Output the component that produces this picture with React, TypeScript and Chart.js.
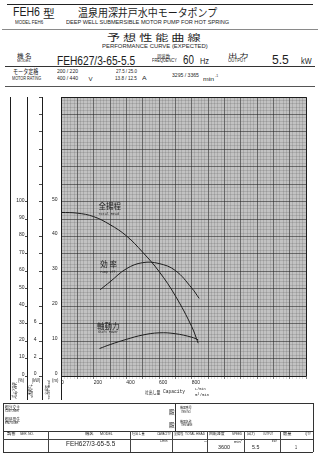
import React, { useEffect, useLayoutEffect, useRef } from 'react';
import { Chart, registerables } from 'chart.js';
Chart.register(...registerables);

// ---------- data ----------
const flowHead = [0, 100, 200, 300, 400, 500, 600, 700, 800, 840];
const totalHead = [46.9, 46.7, 45.7, 43.4, 40.2, 35.5, 30.0, 23.0, 14.2, 9.4];
const flowEff = [240, 300, 400, 500, 600, 700, 800, 846];
const pumpEff = [49.5, 54.0, 61.5, 65.0, 64.5, 60.5, 50.5, 44.5];
const flowPower = [236, 300, 400, 500, 600, 700, 800, 840];
const shaftPower = [3.15, 3.6, 4.2, 4.7, 4.95, 4.85, 4.45, 4.15];
const xTickLabels = [0, 200, 400, 600, 800];
const headTickLabels = [0, 10, 20, 30, 40, 50];
const effTickLabels = [0, 10, 20, 30, 40, 50, 60, 70, 80, 90, 100];
const powerTickLabels = [0, 2, 4, 6];

// ---------- styles ----------
const INK = '#1d1d1d';
const BG = '#c2c2c2';
const MAJ = 'rgba(35,35,35,0.7)';
const MIN = 'rgba(70,70,70,0.3)';
const JP = '"Noto Sans CJK JP", "Noto Sans CJK SC", sans-serif';
const LA = '"Liberation Sans", Arial, sans-serif';
const MO = '"Liberation Mono", "DejaVu Sans Mono", monospace';

type Kind = 'j' | 'l' | 'm';
type TItem = [string, Kind, number, number, number, number];
const FONT: Record<Kind, string> = { j: JP, l: LA, m: MO };
const TOPF: Record<Kind, number> = { j: 0.07, l: 0.13, m: 0.11 };
const HR: Record<Kind, number> = { j: 0.9, l: 0.72, m: 0.66 };

const texts: TItem[] = [
  ['FEH6', 'l', 13, 8, 27, 9],
  ['型', 'j', 43, 7.5, 12, 10.5],
  ['温泉用深井戸水中モータポンプ', 'j', 78, 7.5, 139, 10],
  ['MODEL FEH6', 'l', 15, 21, 28, 4],
  ['DEEP WELL SUBMERSIBLE MOTOR PUMP FOR HOT SPRING', 'l', 66, 21, 163, 4],
  ['予 想 性 能 曲 線', 'j', 107, 33.3, 93, 8.4],
  ['PERFORMANCE CURVE (EXPECTED)', 'l', 102, 44, 106, 4.5],
  ['機 名', 'j', 17, 53, 15, 5.5],
  ['MODEL', 'l', 17, 60, 14, 3],
  ['FEH627/3-65-5.5', 'l', 57, 56, 78, 9.5],
  ['周波数', 'j', 157, 53, 13, 4.5],
  ['FREQUENCY', 'l', 152, 59.5, 25, 3.3],
  ['60', 'l', 183, 56, 11, 9],
  ['Hz', 'l', 200, 58, 9, 6.5],
  ['出 力', 'j', 228, 52.7, 20, 4.6],
  ['OUTPUT', 'l', 228, 60, 18, 3.3],
  ['5.5', 'l', 272, 56, 16.5, 9],
  ['kW', 'l', 301, 58, 10.5, 6.5],
  ['モータ定格', 'j', 13.3, 69.3, 25.7, 5.7],
  ['MOTOR RATING', 'l', 12, 77.3, 29, 3.3],
  ['200 / 220', 'l', 57, 68.3, 20.6, 4.4],
  ['400 / 440', 'l', 57, 76, 20.6, 4.4],
  ['V', 'l', 88.5, 76.5, 4, 4.4],
  ['27.5 / 25.0', 'l', 115.7, 68.3, 21, 4.4],
  ['13.8 / 12.5', 'l', 115.3, 76, 22, 4.4],
  ['A', 'l', 142, 76, 4.5, 4.4],
  ['3295 / 3365', 'l', 172.3, 73, 26.7, 4.4],
  ['min', 'l', 203.3, 78, 11, 3.6],
  ['-1', 'l', 215, 75.5, 3, 2.5],
  ['(%)', 'l', 18, 378.5, 6, 4.2],
  ['(kW)', 'l', 32, 378.5, 8, 4.2],
  ['(m)', 'l', 51.5, 378.5, 6.5, 4.2],
  ['吐出し量', 'j', 145, 389.5, 15, 4.6],
  ['Capacity', 'm', 163, 390, 22, 3.6],
  ['L/min', 'm', 195, 387, 11, 2.8],
  ['m³/min', 'm', 195, 393.5, 14, 2.8],
  ['御注文主', 'j', 5, 405, 15, 3.8],
  ['CUSTOMER', 'l', 5, 410, 14, 2],
  ['御使用先', 'j', 5, 417, 15, 3.8],
  ['END USER', 'l', 5, 422, 13, 2],
  ['殿', 'j', 169, 409, 5.5, 5.5],
  ['殿', 'j', 169, 422.5, 5.5, 5.5],
  ['機器番号', 'j', 180, 406.5, 12, 3.5],
  ['ITEM NO.', 'l', 181, 411, 10, 2],
  ['機器名称', 'j', 180, 420, 12, 3.5],
  ['ITEM NAME', 'l', 181, 424.5, 11, 2],
  ['製番', 'j', 7, 432.7, 9, 3.5],
  ['SER. NO.', 'l', 20, 433.3, 14, 2.6],
  ['機名', 'j', 85, 432.7, 9, 3.5],
  ['MODEL', 'l', 100, 433.3, 13, 2.6],
  ['吐出し量', 'j', 132, 432.7, 13, 3.5],
  ['CAPACITY', 'l', 156.7, 433.3, 14, 2.6],
  ['全揚程', 'j', 174, 432.7, 9.5, 3.5],
  ['TOTAL HEAD', 'l', 185, 433.3, 20, 2.6],
  ['回転速度', 'j', 209, 432.7, 16, 3.5],
  ['SPEED', 'l', 231.7, 433.3, 10, 2.6],
  ['出力', 'j', 246.7, 432.7, 8.5, 3.5],
  ['OUTPUT', 'l', 263, 433.3, 10, 2.6],
  ['数量', 'j', 283, 432.7, 8.7, 3.5],
  ['QTY', 'l', 305, 433.3, 5.5, 2.6],
  ['FEH627/3-65-5.5', 'l', 66, 441.5, 49, 5],
  ['L/min', 'l', 160, 440.7, 7, 2.5],
  ['m', 'l', 204, 441.5, 2.5, 1.8],
  ['min', 'l', 234, 441, 6, 2],
  ['-1', 'l', 240, 439.7, 2, 1.5],
  ['3600', 'l', 218.3, 446, 11.7, 4],
  ['kW', 'l', 271.7, 440.7, 5, 2.5],
  ['5.5', 'l', 251.7, 446, 7.6, 4],
  ['1', 'l', 294.5, 446, 2, 4],
];

const rules: [number, number, number, number, string][] = [
  [7, 3.5, 306, 1.8, '#222'],
  [2, 29, 316, 1, '#8a8a8a'],
  [5, 66.3, 310, 0.9, '#333'],
  [5, 85.5, 310, 1, '#555'],
  [3, 403, 310, 1, '#333'],
  [3, 403, 1, 49, '#333'],
  [312.5, 403, 1, 49, '#333'],
  [175, 403, 1, 28, '#333'],
  [3, 431, 310, 1, '#333'],
  [3, 439, 310, 0.8, '#444'],
  [3, 452, 310, 1, '#333'],
  [48, 431, 0.8, 21, '#444'],
  [130, 431, 0.8, 21, '#444'],
  [172, 431, 0.8, 21, '#444'],
  [207, 431, 0.8, 21, '#444'],
  [243.5, 431, 0.8, 21, '#444'],
  [280, 431, 0.8, 21, '#444'],
];

function Txt({ t }: { t: TItem }) {
  const [text, k, x, y, w, h] = t;
  const s = h / HR[k];
  const ref = useRef<HTMLSpanElement>(null);
  useLayoutEffect(() => {
    const fit = () => {
      const el = ref.current;
      if (!el) return;
      el.style.transform = 'none';
      const nw = el.offsetWidth;
      if (nw > 0) el.style.transform = `scaleX(${w / nw})`;
    };
    fit();
    const f: any = (document as any).fonts;
    if (f && f.ready) f.ready.then(fit);
  }, [text, w, s]);
  return (
    <span
      ref={ref}
      style={{
        position: 'absolute', left: x, top: y - TOPF[k] * s, fontSize: s, fontFamily: FONT[k],
        lineHeight: 1, whiteSpace: 'pre', transformOrigin: '0 0', color: INK, pointerEvents: 'none',
      }}
    >
      {text}
    </span>
  );
}

function Rot({ cx, cy, a, b }: { cx: number; cy: number; a: string; b: string }) {
  return (
    <div
      style={{
        position: 'absolute', left: cx, top: cy, transform: 'translate(-50%,-50%) rotate(-90deg)',
        fontSize: 3.2, lineHeight: 1.05, whiteSpace: 'pre', textAlign: 'center', color: INK,
      }}
    >
      <div style={{ fontFamily: JP }}>{a}</div>
      <div style={{ fontFamily: MO }}>{b}</div>
    </div>
  );
}

const curveLabels: { text: string; font: string; flow: number; head: number }[] = [
  { text: '全揚程', font: `7.5px ${JP}`, flow: 230, head: 49.8 },
  { text: 'Total Head', font: `3.4px ${MO}`, flow: 230, head: 47.0 },
  { text: '効 率', font: `7.5px ${JP}`, flow: 240, head: 33.2 },
  { text: 'Pump Eff.', font: `3.2px ${MO}`, flow: 240, head: 30.3 },
  { text: '軸動力', font: `7.5px ${JP}`, flow: 220, head: 15.3 },
  { text: 'Shaft Power', font: `3.1px ${MO}`, flow: 225, head: 12.9 },
];

const isMult = (v: number, m: number) => Math.abs(v / m - Math.round(v / m)) < 1e-6;
const inList = (list: number[], v: number) => list.some((t) => Math.abs(t - v) < 1e-6);

const paperPlugin = {
  id: 'paper',
  beforeDraw(chart: any) {
    const { ctx, chartArea: a } = chart;
    ctx.save();
    ctx.fillStyle = BG;
    ctx.fillRect(a.left, a.top, a.right - a.left, a.bottom - a.top);
    ctx.restore();
  },
  afterDraw(chart: any) {
    const { ctx, chartArea: a, scales } = chart;
    ctx.save();
    ctx.strokeStyle = INK;
    ctx.lineWidth = 1;
    ctx.beginPath();
    ctx.rect(Math.round(a.left) + 0.5, Math.round(a.top) + 0.5, Math.round(a.right) - Math.round(a.left), Math.round(a.bottom) - Math.round(a.top));
    ctx.stroke();
    [scales.yE.left, scales.yE.right, scales.yP.right, scales.yH.right].forEach((x: number) => {
      const px = Math.round(x) + 0.5;
      ctx.beginPath();
      ctx.moveTo(px, a.top);
      ctx.lineTo(px, chart.height - 5);
      ctx.stroke();
    });
    ctx.fillStyle = INK;
    ctx.textBaseline = 'top';
    ctx.textAlign = 'left';
    curveLabels.forEach((l) => {
      ctx.font = l.font;
      ctx.fillText(l.text, scales.x.getPixelForValue(l.flow), scales.yH.getPixelForValue(l.head));
    });
    ctx.restore();
  },
};

function PerfChart() {
  const ref = useRef<HTMLCanvasElement>(null);
  useEffect(() => {
    const c = ref.current;
    if (!c) return;
    const tickFont = { size: 5, family: LA };
    const line = (xs: number[], ys: number[], axis: string) => ({
      data: xs.map((x, i) => ({ x, y: ys[i] })),
      yAxisID: axis,
      borderColor: INK,
      borderWidth: 1,
      pointRadius: 0,
      tension: 0.4,
    });
    const chart = new Chart(c, {
      type: 'line',
      data: {
        datasets: [
          { label: '全揚程', ...line(flowHead, totalHead, 'yH') },
          { label: '効率', ...line(flowEff, pumpEff, 'yE') },
          { label: '軸動力', ...line(flowPower, shaftPower, 'yP') },
        ],
      },
      options: {
        responsive: false,
        animation: false,
        layout: { padding: { left: 10, right: 14, top: 7, bottom: 19 } },
        plugins: { legend: { display: false }, tooltip: { enabled: false } },
        scales: {
          x: {
            type: 'linear', min: 0, max: 1500,
            ticks: {
              stepSize: 20, autoSkip: false, maxRotation: 0, align: 'start', padding: 1,
              font: tickFont, color: INK,
              callback: (v: any) => (inList(xTickLabels, v) ? String(v) : ''),
            },
            grid: {
              color: (ctx: any) => (ctx.tick && isMult(ctx.tick.value, 100) ? MAJ : MIN),
              lineWidth: (ctx: any) => (ctx.tick && isMult(ctx.tick.value, 100) ? 0.8 : 0.6),
              tickLength: 3,
            },
            afterFit: (s: any) => { s.height = 10; },
          },
          yH: {
            type: 'linear', position: 'left', weight: 0, min: 0, max: 80,
            ticks: {
              stepSize: 1, autoSkip: false, padding: 3.5, labelOffset: -2.5, font: tickFont, color: INK,
              callback: (v: any) => (inList(headTickLabels, v) ? String(v) : ''),
            },
            grid: {
              drawTicks: false,
              color: (ctx: any) => (ctx.tick && isMult(ctx.tick.value, 5) ? MAJ : MIN),
              lineWidth: (ctx: any) => (ctx.tick && isMult(ctx.tick.value, 5) ? 0.8 : 0.6),
            },
            afterFit: (s: any) => { s.width = 19; },
          },
          yP: {
            type: 'linear', position: 'left', weight: 1, min: 0, max: 32,
            ticks: {
              stepSize: 2, autoSkip: false, padding: 2.5, labelOffset: -2, font: tickFont, color: INK,
              callback: (v: any) => (inList(powerTickLabels, v) ? String(v) : ''),
            },
            grid: { drawOnChartArea: false, tickLength: 3, color: INK, lineWidth: 0.8 },
            afterFit: (s: any) => { s.width = 15; },
          },
          yE: {
            type: 'linear', position: 'left', weight: 2, min: 0, max: 160,
            ticks: {
              stepSize: 10, autoSkip: false, padding: 0.5, labelOffset: -1.5, font: tickFont, color: INK,
              callback: (v: any) => (inList(effTickLabels, v) ? String(v) : ''),
            },
            afterBuildTicks: (s: any) => {
              s.ticks = s.ticks.filter((t: any) => t.value <= 100);
            },
            grid: { drawOnChartArea: false, tickLength: 2, color: INK, lineWidth: 0.8 },
            afterFit: (s: any) => { s.width = 17; },
          },
        },
      } as any,
      plugins: [paperPlugin],
    });
    return () => chart.destroy();
  }, []);
  return (
    <canvas
      ref={ref}
      width={320}
      height={315}
      style={{ position: 'absolute', left: 0, top: 90, width: 320, height: 315 }}
    />
  );
}

export default function App() {
  return (
    <div style={{ position: 'fixed', left: 0, top: 0, width: 320, height: 459, background: '#fff', fontFamily: LA }}>
      {rules.map((r, i) => (
        <div key={'r' + i} style={{ position: 'absolute', left: r[0], top: r[1], width: r[2], height: r[3], background: r[4] }} />
      ))}
      <PerfChart />
      {texts.map((t, i) => (
        <Txt key={'t' + i} t={t} />
      ))}
      <Rot cx={14.5} cy={390} a="ポンプ効率" b="Pump Eff." />
      <Rot cx={31} cy={390} a="軸動力" b="Shaft P." />
      <Rot cx={47.5} cy={390} a="全揚程" b="Total Head" />
    </div>
  );
}
